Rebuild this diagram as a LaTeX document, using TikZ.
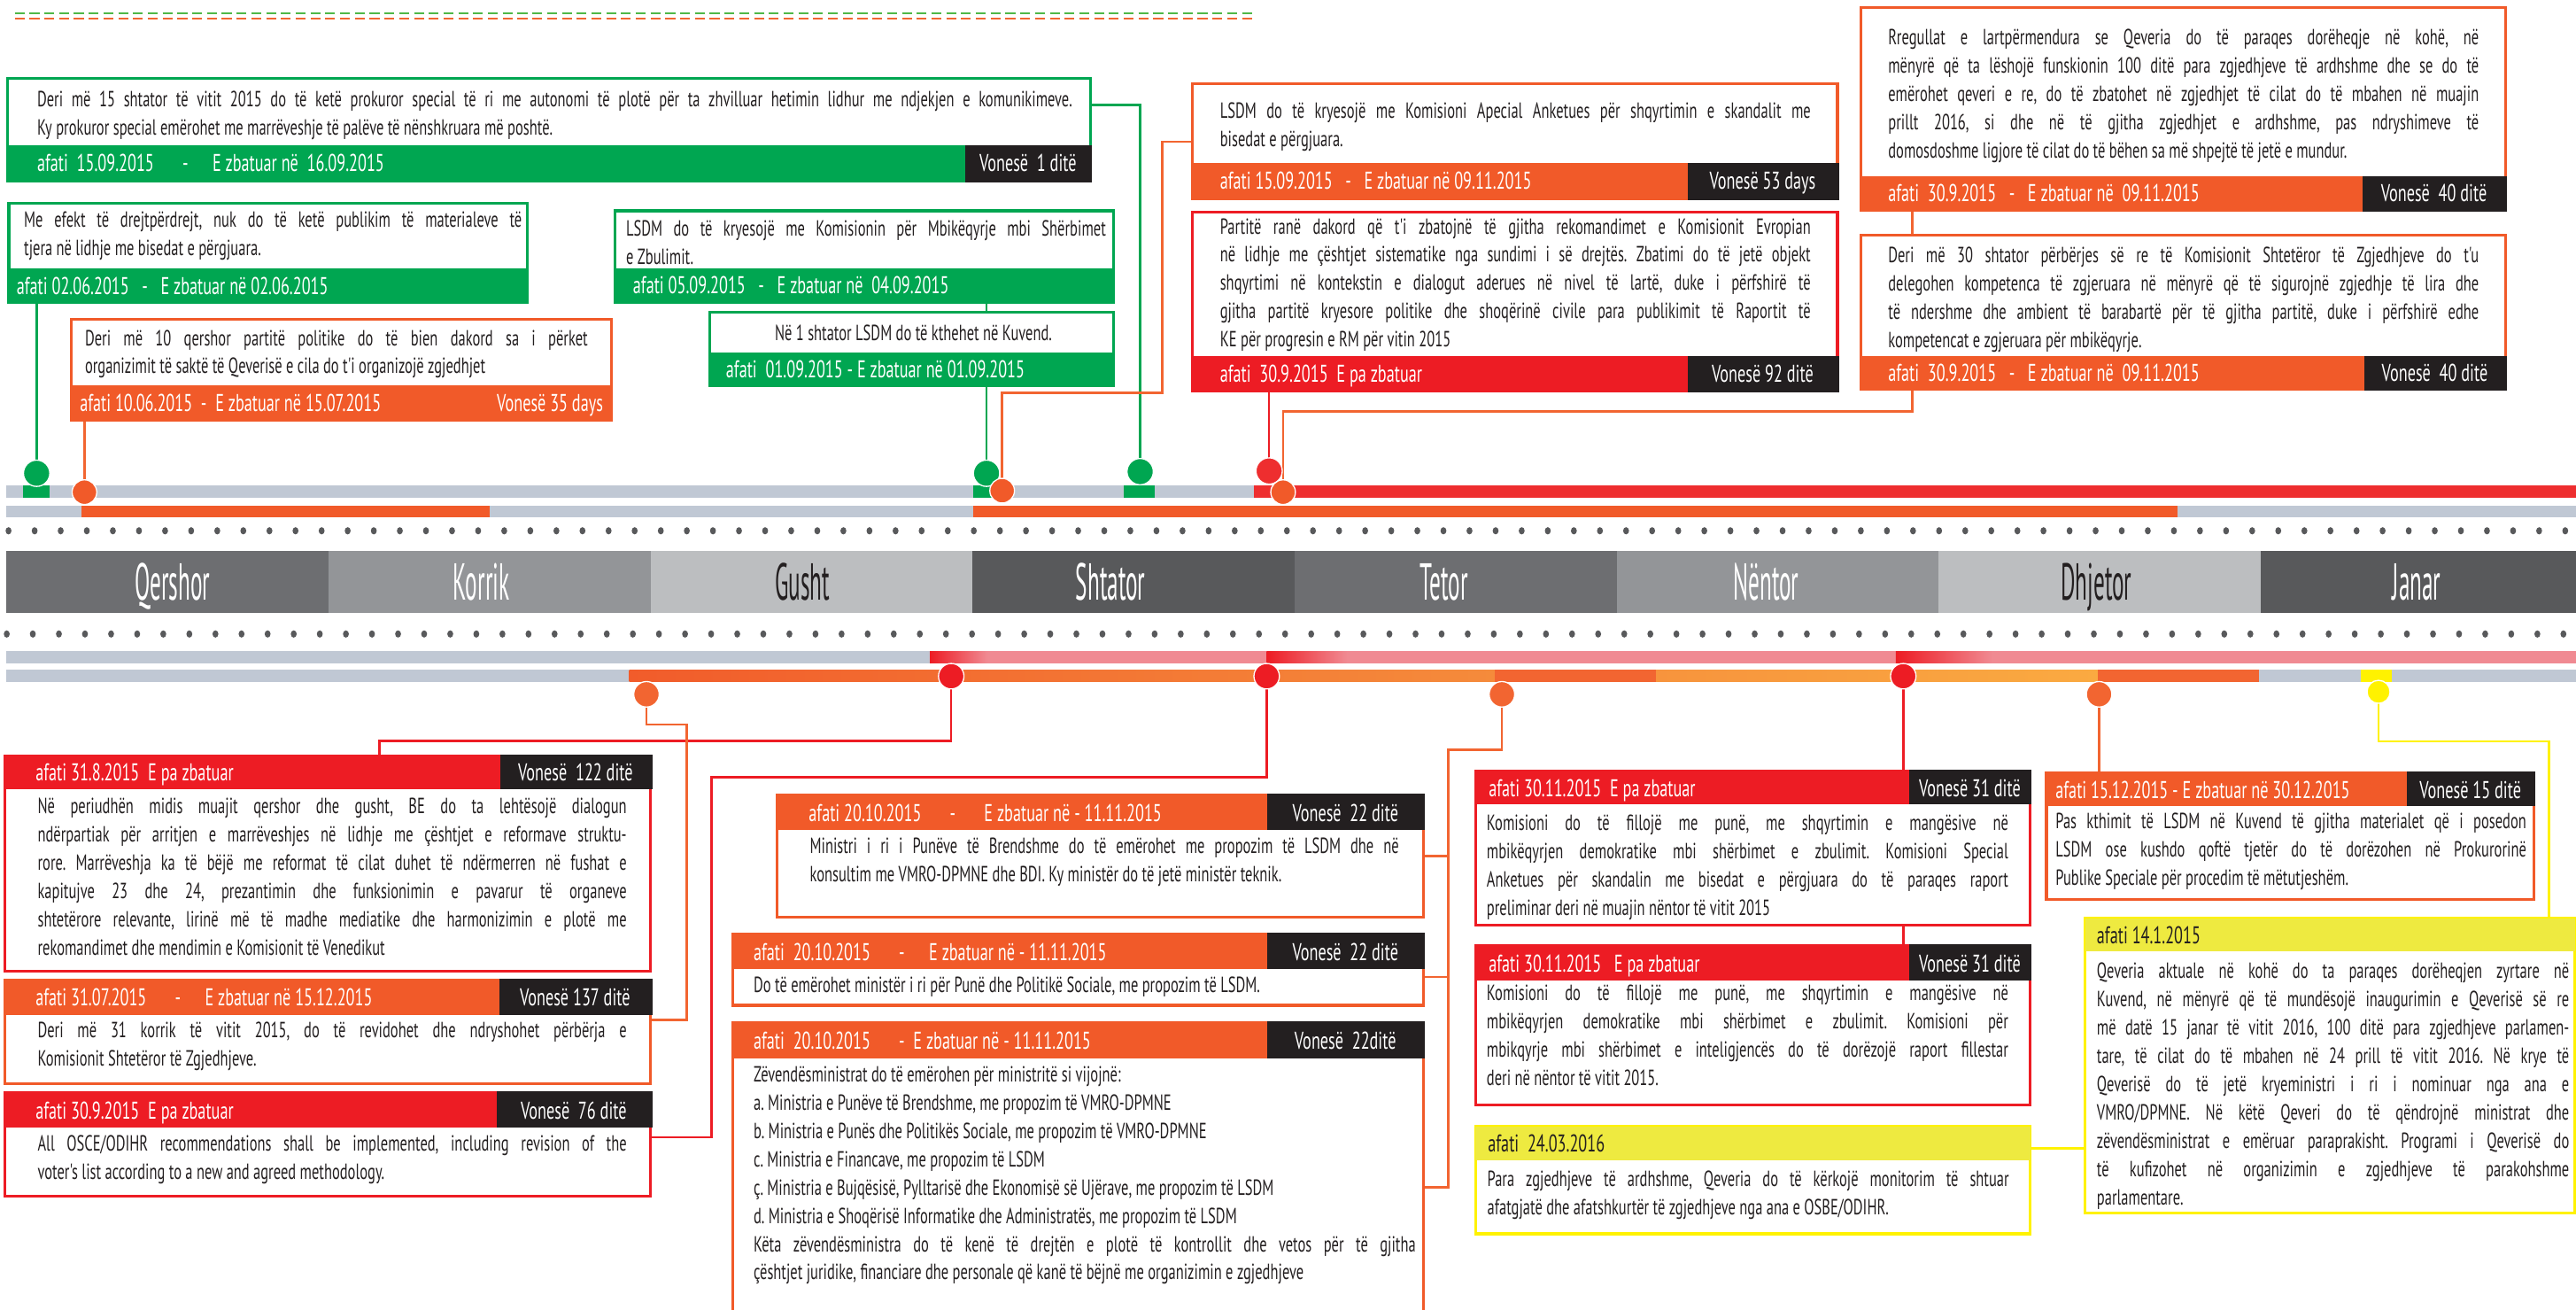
\documentclass[tikz,border=0pt]{standalone}
\usepackage{fontspec}
\setmainfont{PT Sans}
\newfontfamily\narrowfam[FakeStretch=0.665]{PT Sans}
\newfontfamily\monthfam[FakeStretch=0.43]{PT Sans}
\usetikzlibrary{fit}
\definecolor{cgreen}{RGB}{0,166,81}
\definecolor{dashgreen}{RGB}{80,184,72}
\definecolor{corange}{RGB}{241,90,41}
\definecolor{linkorange}{RGB}{242,101,49}
\definecolor{cred}{RGB}{237,28,36}
\definecolor{barred}{RGB}{238,46,47}
\definecolor{yelline}{RGB}{255,242,0}
\definecolor{yelhead}{RGB}{238,234,64}
\definecolor{tagblack}{RGB}{35,31,32}
\definecolor{trackgray}{RGB}{192,200,212}
\definecolor{dotgray}{RGB}{88,89,91}
\definecolor{pinkbar}{RGB}{240,138,146}
\definecolor{monthA}{RGB}{109,110,113}
\definecolor{monthB}{RGB}{147,149,152}
\definecolor{monthC}{RGB}{188,190,192}
\definecolor{monthD}{RGB}{88,89,91}
\definecolor{oraA}{RGB}{241,92,43}
\definecolor{oraB}{RGB}{245,139,59}
\definecolor{oraC}{RGB}{242,101,49}
\definecolor{oraD}{RGB}{247,148,61}
\definecolor{oraE}{RGB}{250,170,65}
\newcommand\bodyfont{\narrowfam\fontsize{7.6}{9.8}\selectfont\frenchspacing}
\newcommand\headfont{\narrowfam\fontsize{8.4}{9.6}\selectfont\frenchspacing}
\newcommand\monthlabelfont{\monthfam\fontsize{18}{18}\selectfont}
\tikzset{
  boxframe/.style={draw=#1, line width=1pt, inner sep=0pt},
  txt/.style={anchor=north west, inner sep=0pt, align=justify, font=\bodyfont, text=tagblack},
  hd/.style={anchor=west, inner sep=0pt, font=\headfont, text=white, text height=5.9pt, text depth=0pt},
  tagtxt/.style={hd, anchor=center},
  link/.style={draw=#1, line width=0.8pt},
  bead/.style={circle, fill=#1, draw=white, line width=0.4pt, inner sep=0pt, minimum size=3.1mm},
  mlabel/.style={font=\monthlabelfont, text=white, inner sep=0pt, text height=12.6pt, text depth=0pt}
}

\begin{document}
\begin{tikzpicture}[x=0.2mm, y=-0.2mm]
    \useasboundingbox (0,0) rectangle (1568,797);
    \clip (0,0) rectangle (1568,797);
    \fill[white] (0,0) rectangle (1568,797);

    % dashed rule at the top
    \draw[dashgreen, line width=0.7pt, dash pattern=on 1.2mm off 0.6mm] (9,8.1) -- (764,8.1);
    \draw[linkorange, line width=0.7pt, dash pattern=on 1.2mm off 0.6mm] (9,11.2) -- (764,11.2);

    % upper tracks
    \fill[trackgray] (3.6,295.6) rectangle (1568,302.8);
    \fill[barred] (763.2,295.6) rectangle (1568,302.8);
    \fill[cgreen] (14,295.6) rectangle (30.2,302.8);
    \fill[cgreen] (592.6,295.6) rectangle (608.6,302.8);
    \fill[cgreen] (684,295.6) rectangle (703,302.8);
    \fill[trackgray] (3.6,307.6) rectangle (1568,314.7);
    \fill[corange] (49.4,307.6) rectangle (298,314.7);
    \fill[corange] (592.6,307.6) rectangle (1325.5,314.7);

    % dotted rows
    \foreach \i in {0,...,98} {
        \fill[dotgray] (5.2+15.88*\i,323) ellipse [x radius=1.8, y radius=2.2];
        \fill[dotgray] (4.1+15.88*\i,385.8) ellipse [x radius=1.8, y radius=2.2];
    }

    % month band
    \foreach \xa/\xb/\col in {3.6/200/monthA, 200/396/monthB, 396/592/monthC, 592/788/monthD,
        788/984/monthA, 984/1180/monthB, 1180/1376/monthC, 1376/1568/monthD}
        \fill[\col] (\xa,335.3) rectangle (\xb,372.9);
    \node[mlabel] (mQer) at (105,354) {Qershor};
    \node[mlabel] (mKor) at (293,354) {Korrik};
    \node[mlabel, text=tagblack] (mGus) at (488.5,354) {Gusht};
    \node[mlabel] (mSht) at (676,354) {Shtator};
    \node[mlabel] (mTet) at (879,354) {Tetor};
    \node[mlabel] (mNen) at (1075,354) {Nëntor};
    \node[mlabel, text=tagblack] (mDhj) at (1276,354) {Dhjetor};
    \node[mlabel] (mJan) at (1471,354) {Janar};

    % lower tracks
    \fill[trackgray] (3.6,396.2) rectangle (1568,403.6);
    \fill[pinkbar] (566,396.2) rectangle (1568,403.6);
    \shade[left color=cred, right color=pinkbar] (566,396.2) rectangle (601,403.6);
    \shade[left color=cred, right color=pinkbar] (771,396.2) rectangle (820,403.6);
    \shade[left color=cred, right color=pinkbar] (1154,396.2) rectangle (1213,403.6);
    \fill[trackgray] (3.6,407.5) rectangle (1568,415);
    \shade[left color=oraA, right color=oraB] (383,407.5) rectangle (910,415);
    \fill[oraC] (910,407.5) rectangle (1008,415);
    \shade[left color=oraD, right color=oraE] (1008,407.5) rectangle (1277,415);
    \fill[oraC] (1277,407.5) rectangle (1375,415);
    \fill[yelline] (1437,407.5) rectangle (1456,415);

    % marker positions (used by the connectors)
    \coordinate (mkB) at (22.3,288);
    \coordinate (mkC) at (51.4,299.5);
    \coordinate (mkE) at (600.5,288);
    \coordinate (mkF) at (610,298.6);
    \coordinate (mkA) at (694,287);
    \coordinate (mkG) at (772.5,286.6);
    \coordinate (mkI) at (781,299.5);
    \coordinate (mkK) at (393.5,422.5);
    \coordinate (mkJ) at (579,411.5);
    \coordinate (mkL) at (771,411.5);
    \coordinate (mkM) at (914.2,422.5);
    \coordinate (mkP) at (1158.5,411.5);
    \coordinate (mkQ) at (1277.7,422.5);
    \coordinate (mkR) at (1447.8,421);

    % ---------- upper boxes
    % A
    \node[boxframe=cgreen, fit={(4.5,47.6) (663.7,110)}] (boxA) {};
    \fill[cgreen] (4.5,88.6) rectangle (663.7,110);
    \fill[tagblack] (587.7,88.6) rectangle (664.6,110.9);
    \node[txt, text width=126mm] (txtA) at (22.3,52.5) {\strut Deri më 15 shtator të vitit 2015 do të ketë prokuror special të ri me autonomi të plotë për ta zhvilluar hetimin lidhur me ndjekjen e komunikimeve.\linebreak Ky prokuror special emërohet me marrëveshje të palëve të nënshkruara më poshtë.};
    \node[hd] (hdA) at (22.3,99.3) {afati~ 15.09.2015 \quad-\quad E zbatuar në~ 16.09.2015};
    \node[tagtxt] (tgA) at (625.7,99.3) {Vonesë~ 1 ditë};

    % B
    \node[boxframe=cgreen, fit={(5.4,123.6) (321,184.2)}] (boxB) {};
    \fill[cgreen] (5.4,163.5) rectangle (321,184.2);
    \node[txt, text width=60.6mm] (txtB) at (14.3,125.9) {\strut Me efekt të drejtpërdrejt, nuk do të ketë publikim të materialeve të\linebreak tjera në lidhje me bisedat e përgjuara.};
    \node[hd] (hdB) at (9.8,173.9) {afati 02.06.2015 ~ - ~ E zbatuar në 02.06.2015};

    % C
    \node[boxframe=corange, fit={(43.4,194.4) (372.3,255.5)}] (boxC) {};
    \fill[corange] (43.4,234.5) rectangle (372.3,255.5);
    \node[txt, text width=61.2mm] (txtC) at (51.4,197.8) {\strut Deri më 10 qershor partitë politike do të bien dakord sa i përket\linebreak organizimit të saktë të Qeverisë e cila do t'i organizojë zgjedhjet};
    \node[hd] (hdC) at (48.3,245) {afati 10.06.2015 ~-~ E zbatuar në 15.07.2015};
    \node[hd, anchor=east] (tgC) at (367.4,245) {Vonesë 35 days};

    % D
    \node[boxframe=cgreen, fit={(374.5,128.3) (678,184.2)}] (boxD) {};
    \fill[cgreen] (374.5,163.2) rectangle (678,184.2);
    \node[txt, text width=58.4mm] (txtD) at (380.8,131.3) {\strut LSDM do të kryesojë me Komisionin për Mbikëqyrje mbi Shërbimet\linebreak e Zbulimit.};
    \node[hd] (hdD) at (385,173.7) {afati 05.09.2015 ~ - ~ E zbatuar në~ 04.09.2015};

    % E
    \node[boxframe=cgreen, fit={(432.2,190) (678,234.5)}] (boxE) {};
    \fill[cgreen] (432.2,214.4) rectangle (678,234.5);
    \node[txt, anchor=north, align=center] (txtE) at (556,195.1) {\strut Në 1 shtator LSDM do të kthehet në Kuvend.};
    \node[hd] (hdE) at (441.6,224.5) {afati~ 01.09.2015 - E zbatuar në 01.09.2015};

    % F
    \node[boxframe=corange, fit={(725.7,50.9) (1118.5,120.8)}] (boxF) {};
    \fill[corange] (725.7,99.4) rectangle (1118.5,120.8);
    \fill[tagblack] (1027.2,99.4) rectangle (1119.4,121.7);
    \node[txt, text width=71.9mm] (txtF) at (742.3,59.4) {\strut LSDM do të kryesojë me Komisioni Apecial Anketues për shqyrtimin e skandalit me\linebreak bisedat e përgjuara.};
    \node[hd] (hdF) at (742.3,110.1) {afati 15.09.2015 ~ - ~ E zbatuar në 09.11.2015};
    \node[tagtxt] (tgF) at (1072.9,110.1) {Vonesë 53 days};

    % G
    \node[boxframe=cred, fit={(725.7,129) (1118.5,238)}] (boxG) {};
    \fill[cred] (725.7,216.9) rectangle (1118.5,238);
    \fill[tagblack] (1027.2,216.9) rectangle (1119.4,238.9);
    \node[txt, text width=71.9mm] (txtG) at (742.3,129.9) {\strut Partitë ranë dakord që t'i zbatojnë të gjitha rekomandimet e Komisionit Evropian\linebreak në lidhje me çështjet sistematike nga sundimi i së drejtës. Zbatimi do të jetë objekt\linebreak shqyrtimi në kontekstin e dialogut aderues në nivel të lartë, duke i përfshirë të\linebreak gjitha partitë kryesore politike dhe shoqërinë civile para publikimit të Raportit të\linebreak KE për progresin e RM për vitin 2015};
    \node[hd] (hdG) at (742.3,227.5) {afati~ 30.9.2015~ E pa zbatuar};
    \node[tagtxt] (tgG) at (1072.9,227.5) {Vonesë 92 ditë};

    % H
    \node[boxframe=corange, fit={(1132.8,4.5) (1525,128.1)}] (boxH) {};
    \fill[corange] (1132.8,107.3) rectangle (1525,128.1);
    \fill[tagblack] (1438,107.3) rectangle (1525.9,129);
    \node[txt, text width=71.9mm] (txtH) at (1149,14.9) {\strut Rregullat e lartpërmendura se Qeveria do të paraqes dorëheqje në kohë, në\linebreak mënyrë që ta lëshojë funskionin 100 ditë para zgjedhjeve të ardhshme dhe se do të\linebreak emërohet qeveri e re, do të zbatohet në zgjedhjet të cilat do të mbahen në muajin\linebreak prillt 2016, si dhe në të gjitha zgjedhjet e ardhshme, pas ndryshimeve të\linebreak domosdoshme ligjore të cilat do të bëhen sa më shpejtë të jetë e mundur.};
    \node[hd] (hdH) at (1149,117.7) {afati~ 30.9.2015 ~ - ~ E zbatuar në~ 09.11.2015};
    \node[tagtxt] (tgH) at (1481.5,117.7) {Vonesë~ 40 ditë};

    % I
    \node[boxframe=corange, fit={(1132.8,143.2) (1525,236.8)}] (boxI) {};
    \fill[corange] (1132.8,216.9) rectangle (1525,236.8);
    \fill[tagblack] (1439,216.9) rectangle (1525.9,237.7);
    \node[txt, text width=71.9mm] (txtI) at (1149,147.3) {\strut Deri më 30 shtator përbërjes së re të Komisionit Shtetëror të Zgjedhjeve do t'u\linebreak delegohen kompetenca të zgjeruara në mënyrë që të sigurojnë zgjedhje të lira dhe\linebreak të ndershme dhe ambient të barabartë për të gjitha partitë, duke i përfshirë edhe\linebreak kompetencat e zgjeruara për mbikëqyrje.};
    \node[hd] (hdI) at (1149,226.9) {afati~ 30.9.2015 ~ - ~ E zbatuar në~ 09.11.2015};
    \node[tagtxt] (tgI) at (1482,226.9) {Vonesë~ 40 ditë};

    % ---------- lower boxes
    % J
    \node[boxframe=cred, fit={(2.8,460.2) (396.1,591.1)}] (boxJ) {};
    \fill[cred] (2.8,460.2) rectangle (396.1,480.1);
    \fill[tagblack] (304.5,459.3) rectangle (397,480.1);
    \node[txt, text width=71.7mm] (txtJ) at (22.6,482.9) {\strut Në periudhën midis muajit qershor dhe gusht, BE do ta lehtësojë dialogun\linebreak ndërpartiak për arritjen e marrëveshjes në lidhje me çështjet e reformave struktu-\linebreak rore. Marrëveshja ka të bëjë me reformat të cilat duhet të ndërmerren në fushat e\linebreak kapitujve 23 dhe 24, prezantimin dhe funksionimin e pavarur të organeve\linebreak shtetërore relevante, lirinë më të madhe mediatike dhe harmonizimin e plotë me\linebreak rekomandimet dhe mendimin e Komisionit të Venedikut};
    \node[hd] (hdJ) at (21.4,470.2) {afati 31.8.2015~ E pa zbatuar};
    \node[tagtxt] (tgJ) at (350.3,470.2) {Vonesë~ 122 ditë};

    % K
    \node[boxframe=corange, fit={(2.8,596.5) (396.1,659.5)}] (boxK) {};
    \fill[corange] (2.8,596.5) rectangle (396.1,617.6);
    \fill[tagblack] (303.9,595.6) rectangle (397,617.6);
    \node[txt, text width=71.7mm] (txtK) at (22.6,619.3) {\strut Deri më 31 korrik të vitit 2015, do të revidohet dhe ndryshohet përbërja e\linebreak Komisionit Shtetëror të Zgjedhjeve.};
    \node[hd] (hdK) at (21.4,607) {afati 31.07.2015 \quad-\quad E zbatuar në 15.12.2015};
    \node[tagtxt] (tgK) at (350,607) {Vonesë 137 ditë};

    % L
    \node[boxframe=cred, fit={(2.8,665.1) (396.1,728.1)}] (boxL) {};
    \fill[cred] (2.8,665.1) rectangle (396.1,686.2);
    \fill[tagblack] (302.2,664.2) rectangle (397,686.2);
    \node[txt, text width=71.7mm] (txtL) at (22.6,687.9) {\strut All OSCE/ODIHR recommendations shall be implemented, including revision of the\linebreak voter's list according to a new and agreed methodology.};
    \node[hd] (hdL) at (21.4,675.7) {afati 30.9.2015~ E pa zbatuar};
    \node[tagtxt] (tgL) at (349.2,675.7) {Vonesë~ 76 ditë};

    % M
    \node[boxframe=corange, fit={(473,483.7) (866.6,558.3)}] (boxM) {};
    \fill[corange] (473,483.7) rectangle (866.6,505.3);
    \fill[tagblack] (771.1,482.8) rectangle (867.5,505.3);
    \node[txt, text width=71.7mm] (txtM) at (492.6,507) {\strut Ministri i ri i Punëve të Brendshme do të emërohet me propozim të LSDM dhe në\linebreak konsultim me VMRO-DPMNE dhe BDI. Ky ministër do të jetë ministër teknik.};
    \node[hd] (hdM) at (492,494.5) {afati 20.10.2015 \quad - \quad E zbatuar në - 11.11.2015};
    \node[tagtxt] (tgM) at (818.9,494.5) {Vonesë~ 22 ditë};

    % N
    \node[boxframe=corange, fit={(446.2,568.6) (866.6,611.8)}] (boxN) {};
    \fill[corange] (446.2,568.6) rectangle (866.6,589.6);
    \fill[tagblack] (771.1,567.7) rectangle (867.5,589.6);
    \node[txt, text width=80.6mm] (txtN) at (458.4,591.8) {\strut Do të emërohet ministër i ri për Punë dhe Politikë Sociale, me propozim të LSDM.};
    \node[hd] (hdN) at (458.4,579.1) {afati~ 20.10.2015 \quad-\quad E zbatuar në - 11.11.2015};
    \node[tagtxt] (tgN) at (818.9,579.1) {Vonesë~ 22 ditë};

    % O
    \node[boxframe=corange, fit={(446.2,622.5) (866.6,810)}] (boxO) {};
    \fill[corange] (446.2,622.5) rectangle (866.6,644.1);
    \fill[tagblack] (771.1,621.6) rectangle (867.5,644.1);
    \node[txt, text width=80.6mm] (txtO) at (458.4,645.9) {\strut Zëvendësministrat do të emërohen për ministritë si vijojnë:\\
        a. Ministria e Punëve të Brendshme, me propozim të VMRO-DPMNE\\
        b. Ministria e Punës dhe Politikës Sociale, me propozim të VMRO-DPMNE\\
        c. Ministria e Financave, me propozim të LSDM\\
        ç. Ministria e Bujqësisë, Pylltarisë dhe Ekonomisë së Ujërave, me propozim të LSDM\\
        d. Ministria e Shoqërisë Informatike dhe Administratës, me propozim të LSDM\\
        Këta zëvendësministra do të kenë të drejtën e plotë të kontrollit dhe vetos për të gjitha\linebreak çështjet juridike, financiare dhe personale që kanë të bëjnë me organizimin e zgjedhjeve};
    \node[hd] (hdO) at (458.4,633.3) {afati~ 20.10.2015 \quad-~ E zbatuar në - 11.11.2015};
    \node[tagtxt] (tgO) at (818.9,633.3) {Vonesë~ 22ditë};

    % P1
    \node[boxframe=cred, fit={(898.2,469.2) (1235.7,562.8)}] (boxP1) {};
    \fill[cred] (898.2,469.2) rectangle (1235.7,489.6);
    \fill[tagblack] (1162.2,468.3) rectangle (1236.6,489.6);
    \node[txt, text width=63.5mm] (txtP1) at (904.6,492.9) {\strut Komisioni do të fillojë me punë, me shqyrtimin e mangësive në\linebreak mbikëqyrjen demokratike mbi shërbimet e zbulimit. Komisioni Special\linebreak Anketues për skandalin me bisedat e përgjuara do të paraqes raport\linebreak preliminar deri në muajin nëntor të vitit 2015};
    \node[hd] (hdP1) at (905.9,479.4) {afati 30.11.2015~ E pa zbatuar};
    \node[tagtxt] (tgP1) at (1199,479.4) {Vonesë 31 ditë};

    % P2
    \node[boxframe=cred, fit={(898.2,575.7) (1235.7,672.6)}] (boxP2) {};
    \fill[cred] (898.2,575.7) rectangle (1235.7,596.9);
    \fill[tagblack] (1162.2,574.8) rectangle (1236.6,596.9);
    \node[txt, text width=63.5mm] (txtP2) at (904.6,596.5) {\strut Komisioni do të fillojë me punë, me shqyrtimin e mangësive në\linebreak mbikëqyrjen demokratike mbi shërbimet e zbulimit. Komisioni për\linebreak mbikqyrje mbi shërbimet e inteligjencës do të dorëzojë raport fillestar\linebreak deri në nëntor të vitit 2015.};
    \node[hd] (hdP2) at (905.9,586.3) {afati 30.11.2015 ~ E pa zbatuar};
    \node[tagtxt] (tgP2) at (1199,586.3) {Vonesë 31 ditë};

    % S
    \node[boxframe=yelline, fit={(898.2,685.6) (1235.7,750.8)}] (boxS) {};
    \fill[yelhead] (898.2,685.6) rectangle (1235.7,705.9);
    \node[txt, text width=63.5mm] (txtS) at (905,709.4) {\strut Para zgjedhjeve të ardhshme, Qeveria do të kërkojë monitorim të shtuar\linebreak afatgjatë dhe afatshkurtër të zgjedhjeve nga ana e OSBE/ODIHR.};
    \node[hd, text=tagblack] (hdS) at (905.4,695.8) {afati~ 24.03.2016};

    % Q
    \node[boxframe=corange, fit={(1245.7,470.3) (1542.2,547.4)}] (boxQ) {};
    \fill[corange] (1245.7,470.3) rectangle (1542.2,490.7);
    \fill[tagblack] (1465.1,469.4) rectangle (1543.1,490.7);
    \node[txt, text width=57.3mm] (txtQ) at (1250.9,492) {\strut Pas kthimit të LSDM në Kuvend të gjitha materialet që i posedon\linebreak LSDM ose kushdo qoftë tjetër do të dorëzohen në Prokurorinë\linebreak Publike Speciale për procedim të mëtutjeshëm.};
    \node[hd] (hdQ) at (1250.9,480.5) {afati 15.12.2015 - E zbatuar në 30.12.2015};
    \node[tagtxt] (tgQ) at (1503.7,480.5) {Vonesë 15 ditë};

    % R
    \node[boxframe=yelline, fit={(1269.1,558.7) (1567.5,738.3)}] (boxR) {};
    \fill[yelhead] (1269.1,558.7) rectangle (1567.5,579.1);
    \node[txt, text width=57.5mm] (txtR) at (1276,583) {\strut Qeveria aktuale në kohë do ta paraqes dorëheqjen zyrtare në\linebreak Kuvend, në mënyrë që të mundësojë inaugurimin e Qeverisë së re\linebreak më datë 15 janar të vitit 2016, 100 ditë para zgjedhjeve parlamen-\linebreak tare, të cilat do të mbahen në 24 prill të vitit 2016. Në krye të\linebreak Qeverisë do të jetë kryeministri i ri i nominuar nga ana e\linebreak VMRO/DPMNE. Në këtë Qeveri do të qëndrojnë ministrat dhe\linebreak zëvendësministrat e emëruar paraprakisht. Programi i Qeverisë do\linebreak të kufizohet në organizimin e zgjedhjeve të parakohshme\linebreak parlamentare.};
    \node[hd, text=tagblack] (hdR) at (1276,568.9) {afati 14.1.2015};

    % ---------- connectors
    \draw[link=cgreen] (boxA.east |- 0,63.8) -| (mkA);
    \draw[link=cgreen] (boxB.south -| mkB) -- (mkB);
    \draw[link=linkorange] (boxC.south -| mkC) -- (mkC);
    \draw[link=cgreen] (boxD.south -| mkE) -- (boxE.north -| mkE);
    \draw[link=cgreen] (boxE.south -| mkE) -- (mkE);
    \draw[link=linkorange] (boxF.west |- 0,86.3) -| (707.4,239) -| (mkF);
    \draw[link=cred] (boxG.south -| mkG) -- (mkG);
    \draw[link=linkorange] (boxH.south -| 1163.9,0) -- (boxI.north -| 1163.9,0);
    \draw[link=linkorange] (boxI.south -| 1163.9,0) |- (mkI |- 0,250.3) -- (mkI);

    \draw[link=cred] (mkJ) |- (231,451) -- (boxJ.north -| 231,0);
    \draw[link=linkorange] (mkK) |- (418,441) |- (boxK.east |- 0,620.5);
    \draw[link=cred] (mkL) |- (433,473) |- (boxL.east |- 0,692);
    \coordinate (jMNO) at (881.5,456.1);
    \draw[link=linkorange] (mkM) |- (jMNO) -- (jMNO |- 0,722.4) -- (boxO.east |- 0,722.4);
    \draw[link=linkorange] (boxM.east) -- (boxM.east -| jMNO);
    \draw[link=linkorange] (boxN.east |- 0,594.6) -- (jMNO |- 0,594.6);
    \draw[link=cred] (mkP) -- (boxP1.north -| mkP);
    \draw[link=cred] (boxP1.south -| mkP) -- (boxP2.north -| mkP);
    \draw[link=linkorange] (mkQ) -- (boxQ.north -| mkQ);
    \draw[link=yelline] (mkR) |- (1551.7,451.1) -- (boxR.north -| 1551.7,0);
    \draw[link=yelline] (boxS.east |- 0,698.7) -- (boxR.west |- 0,698.7);

    % ---------- markers on the tracks
    \node[bead=cgreen, minimum size=3.2mm] (beadB) at (mkB) {};
    \node[bead=cgreen, minimum size=3.2mm] (beadE) at (mkE) {};
    \node[bead=cgreen, minimum size=3.2mm] (beadA) at (mkA) {};
    \node[bead=barred, minimum size=3.2mm] (beadG) at (mkG) {};
    \node[bead=corange, minimum size=3mm] (beadC) at (mkC) {};
    \node[bead=corange, minimum size=3mm] (beadF) at (mkF) {};
    \node[bead=corange, minimum size=3mm] (beadI) at (mkI) {};
    \node[bead=oraC] (beadK) at (mkK) {};
    \node[bead=cred] (beadJ) at (mkJ) {};
    \node[bead=cred] (beadL) at (mkL) {};
    \node[bead=oraC] (beadM) at (mkM) {};
    \node[bead=cred] (beadP) at (mkP) {};
    \node[bead=oraC] (beadQ) at (mkQ) {};
    \node[bead=yelline, minimum size=2.8mm] (beadR) at (mkR) {};
\end{tikzpicture}
\end{document}
